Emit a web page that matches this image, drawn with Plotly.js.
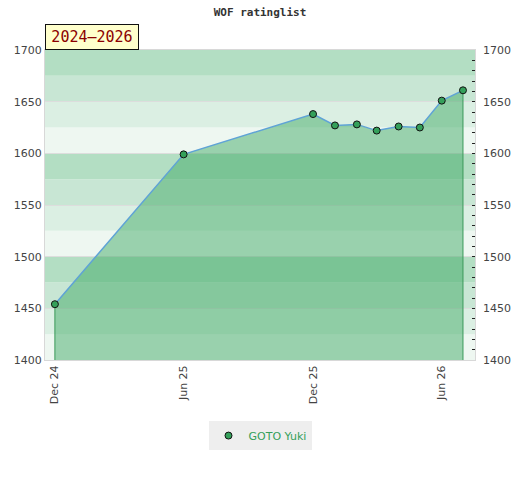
<!DOCTYPE html>
<html>
<head>
<meta charset="utf-8">
<script src="https://cdn.plot.ly/plotly-3.0.1.min.js"></script>
<style>html,body{margin:0;padding:0;background:#fff;}#chart{width:520px;height:480px;}</style>
</head>
<body>
<div id="chart"></div>
<script>
const playerName = "GOTO Yuki";
const chartTitle = "WOF ratinglist";
const periodLabel = "2024–2026";
const dates = ["2024-12-01","2025-06-01","2025-12-01","2026-01-01","2026-02-01","2026-03-01","2026-04-01","2026-05-01","2026-06-01","2026-07-01"];
const ratings = [1454, 1599, 1638, 1627, 1628, 1622, 1626, 1625, 1651, 1661];
const yMin = 1400, yMax = 1700;
const bandColors = ["#eef7f1", "#dbefe3", "#c8e6d4", "#b3dec3"];

const shapes = [];
for (let v = yMin, i = 0; v < yMax; v += 25, i++) {
  shapes.push({type:"rect", xref:"paper", x0:0, x1:1, yref:"y", y0:v, y1:v+25,
    fillcolor: bandColors[i % 4], line:{width:0}, layer:"below"});
}

const last = dates.length - 1;
const traces = [
  {x: dates, y: ratings, type:"scatter", mode:"lines", fill:"tozeroy",
   fillcolor:"rgba(60,168,99,0.48)", line:{color:"#5fa3d6", width:1.5},
   showlegend:false, hoverinfo:"skip"},
  {x: [dates[0], dates[0]], y: [ratings[0], yMin], type:"scatter", mode:"lines",
   line:{color:"#3a9a5a", width:1}, showlegend:false, hoverinfo:"skip"},
  {x: [dates[last], dates[last]], y: [ratings[last], yMin], type:"scatter", mode:"lines",
   line:{color:"#3a9a5a", width:1}, showlegend:false, hoverinfo:"skip"},
  {x: dates, y: ratings, type:"scatter", mode:"markers", name: playerName,
   marker:{color:"#34a05a", size:7, line:{color:"#111", width:1}}},
  {x: [dates[0]], y: [ratings[0]], yaxis:"y2", type:"scatter", mode:"markers",
   marker:{opacity:0}, showlegend:false, hoverinfo:"skip"}
];

const tickFont = {family:"DejaVu Sans", size:11, color:"#444"};
const layout = {
  width:520, height:480,
  margin:{l:45, r:45, t:50, b:120},
  paper_bgcolor:"#fff", plot_bgcolor:"#fff",
  title:{text: chartTitle, x:0.5, xanchor:"center", y:0.983, yanchor:"top",
    font:{family:"DejaVu Sans Mono", size:11, color:"#333", weight:"bold"}},
  xaxis:{type:"date", range:["2024-11-17","2026-07-18"], tick0:"2024-12-01", dtick:"M6",
    tickformat:"%b %y", tickangle:-90, tickfont:tickFont, showgrid:false, zeroline:false,
    showline:true, linecolor:"#d8d8d8", mirror:true, ticks:"", fixedrange:true},
  yaxis:{range:[yMin, yMax], dtick:50, tickfont:tickFont, showgrid:true, gridcolor:"#dddddd",
    zeroline:false, showline:true, linecolor:"#d8d8d8", mirror:true, ticks:"", ticklen:0},
  yaxis2:{overlaying:"y", side:"right", range:[yMin, yMax], dtick:50, tickfont:tickFont,
    showgrid:false, zeroline:false, ticks:"inside", ticklen:3, tickcolor:"#222",
    ticklabelstandoff:7,
    minor:{dtick:10, ticks:"inside", ticklen:3, tickcolor:"#222", showgrid:false}},
  shapes: shapes,
  showlegend:true,
  legend:{orientation:"h", x:0.5, xanchor:"center", y:-0.197, yanchor:"top", itemwidth:30,
    bgcolor:"#eeeeee", font:{family:"DejaVu Sans", size:11, color:"#34a05a"}},
  annotations:[{text: periodLabel, xref:"paper", yref:"paper", x:0, xanchor:"left",
    y:1, yanchor:"bottom", showarrow:false, bgcolor:"#ffffcc", bordercolor:"#111",
    borderwidth:1, borderpad:3, width:86, height:18,
    font:{family:"DejaVu Sans Mono", size:15, color:"#8b0000"}}]
};

Plotly.newPlot("chart", traces, layout, {staticPlot:true, displayModeBar:false});
</script>
</body>
</html>
